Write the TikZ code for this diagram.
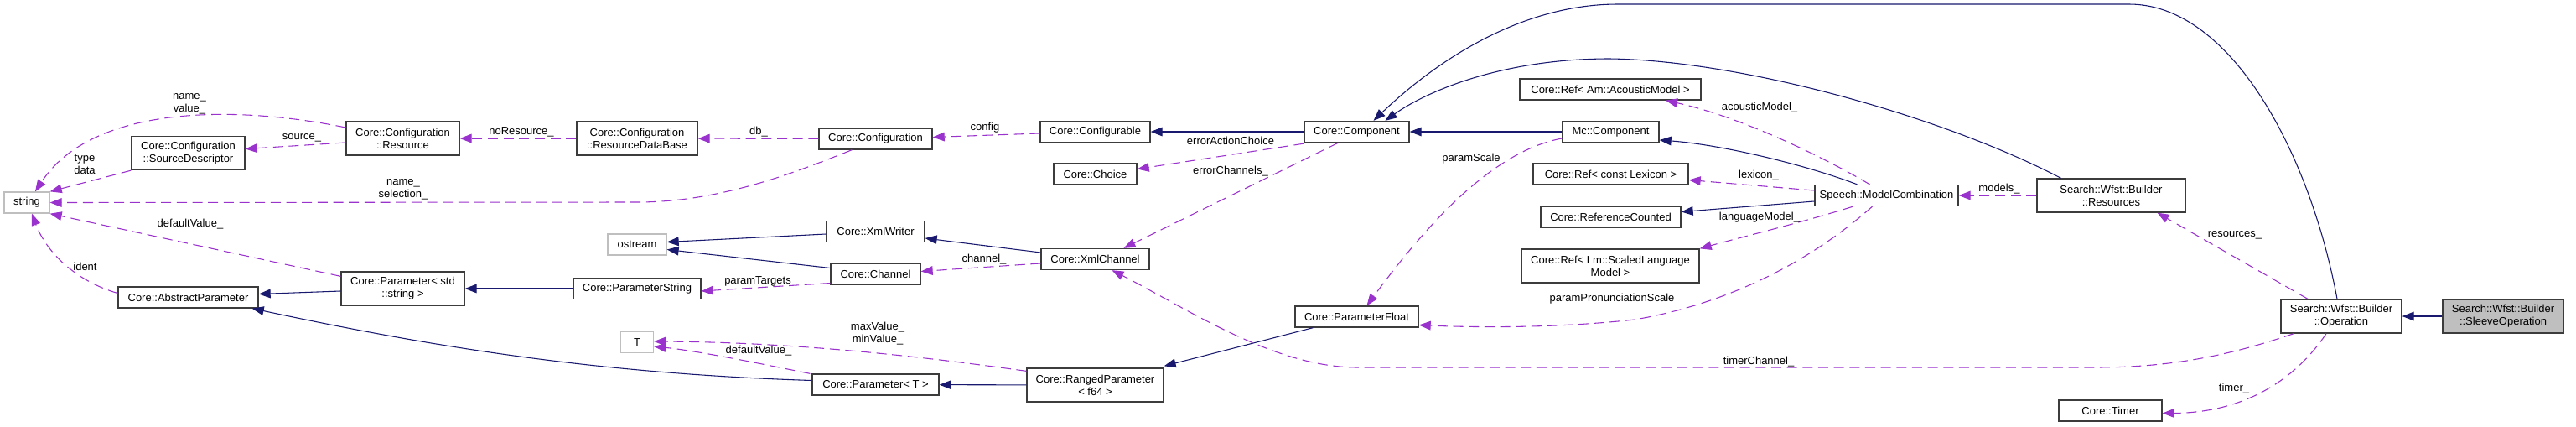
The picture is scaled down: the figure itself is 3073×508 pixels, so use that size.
\documentclass[tikz,border=0pt]{standalone}
\usepackage{fontspec}
\setmainfont{Liberation Sans}
\usetikzlibrary{arrows.meta,calc}
\definecolor{navy}{RGB}{25,25,112}
\definecolor{orchid}{RGB}{154,50,205}
\definecolor{frame}{RGB}{60,60,60}
\definecolor{grey75}{RGB}{191,191,191}
\tikzset{
  >={Triangle[length=10.5pt,width=8pt]},
  cls/.style={draw=frame,line width=1pt,fill=white,inner sep=0pt,
    minimum height=25*0.75pt,align=center,font=\fontsize{9.75}{11.25}\selectfont},
  ext/.style={cls,draw=grey75},
  two/.style={minimum height=40*0.75pt},
  wd/.style={minimum width=#1*0.75pt},
  inh/.style={->,draw=navy,line width=0.8pt},
  use/.style={->,draw=orchid,line width=0.8pt,dash pattern=on 9pt off 5pt},
  lbl/.style={inner sep=0pt,align=center,font=\fontsize{9.75}{11.25}\selectfont},
}
\begin{document}
\begin{tikzpicture}[x=0.75pt,y=-0.75pt]
  \fill[white] (0,0) rectangle (3073,508);
  % classes
  \node[ext,wd=54] (str) at (32,241.5) {string};
  \node[cls,two,wd=135] (sd) at (224.5,182.5) {Core::Configuration\\::SourceDescriptor};
  \node[cls,two,wd=135] (cres) at (480.5,165) {Core::Configuration\\::Resource};
  \node[cls,wd=167] (ap) at (224.5,354.5) {Core::AbstractParameter};
  \node[cls,two,wd=147] (pss) at (480.5,344) {Core::Parameter< std\\::string >};
  \node[cls,two,wd=144] (rdb) at (760,165) {Core::Configuration\\::ResourceDataBase};
  \node[ext,wd=70] (ost) at (760,291.5) {ostream};
  \node[cls,wd=152] (ps) at (760,344) {Core::ParameterString};
  \node[ext,wd=39] (tt) at (760,408) {T};
  \node[cls,wd=135] (conf) at (1044.5,165.5) {Core::Configuration};
  \node[cls,wd=117] (xw) at (1044.5,276) {Core::XmlWriter};
  \node[cls,wd=107] (ch) at (1044.5,326.5) {Core::Channel};
  \node[cls,wd=151] (pt) at (1044.5,458.5) {Core::Parameter< T >};
  \node[cls,wd=131] (cfgb) at (1306.5,157) {Core::Configurable};
  \node[cls,wd=99] (cho) at (1306.5,207.5) {Core::Choice};
  \node[cls,wd=129] (xch) at (1306.5,309) {Core::XmlChannel};
  \node[cls,two,wd=163] (rp) at (1306.5,459) {Core::RangedParameter\\< f64 >};
  \node[cls,wd=125] (cmp) at (1618.5,157) {Core::Component};
  \node[cls,wd=147] (pf) at (1618.5,377.5) {Core::ParameterFloat};
  \node[cls,wd=216] (ram) at (1921,106.5) {Core::Ref< Am::AcousticModel >};
  \node[cls,wd=115] (mcc) at (1921.5,157) {Mc::Component};
  \node[cls,wd=185] (rlex) at (1921.5,207.5) {Core::Ref< const Lexicon >};
  \node[cls,wd=167] (refc) at (1921.5,258.5) {Core::ReferenceCounted};
  \node[cls,two,wd=212] (rlm) at (1921,317) {Core::Ref< Lm::ScaledLanguage\\Model >};
  \node[cls,wd=171] (mc) at (2250.5,233) {Speech::ModelCombination};
  \node[cls,two,wd=177] (res) at (2518.5,233) {Search::Wfst::Builder\\::Resources};
  \node[cls,wd=123] (tim) at (2517.5,489.5) {Core::Timer};
  \node[cls,two,wd=144] (op) at (2793,377) {Search::Wfst::Builder\\::Operation};
  \node[cls,two,wd=144,fill=grey75] (slv) at (2986,377) {Search::Wfst::Builder\\::SleeveOperation};

  % inheritance
  \foreach \a/\b in {slv/op,mcc/cmp,cmp/cfgb,ps/pss,rp/pt} \draw[inh] (\a) -- (\b);
  \draw[inh] ($(op.north)+(-5,0)$) .. controls (2755,180) and (2660,5) .. (2540,5) -- (1930,5)
    .. controls (1800,5) and (1695,90) .. ($(cmp.north)+(20,0)$);
  \draw[inh] ($(res.north)+(-60,0)$) .. controls (2320,140) and (2080,72) .. (1920,70)
    .. controls (1790,70) and (1700,110) .. ($(cmp.north)+(34,0)$);
  \draw[inh] ($(mc.north)+(-35,0)$) .. controls (2150,195) and (2050,172) .. ($(mcc.east)+(0,10)$);
  \draw[inh] ($(mc.west)+(0,7)$) -- ($(refc.east)+(0,-6)$);
  \draw[inh] ($(xch.west)+(0,-8)$) -- ($(xw.east)+(0,8)$);
  \draw[inh] ($(xw.west)+(0,3)$) -- ($(ost.east)+(0,-3)$);
  \draw[inh] ($(ch.west)+(0,-7)$) -- ($(ost.east)+(0,6)$);
  \draw[inh] ($(pss.west)+(0,3)$) -- ($(ap.east)+(0,-4)$);
  \draw[inh] ($(pt.west)+(0,-5)$) .. controls (700,445) and (500,410) .. ($(ap.south east)+(-8,0)$);
  \draw[inh] ($(pf.south west)+(22,0)$) -- ($(rp.north east)+(0,-2)$);

  % usage
  \foreach \a/\b in {res/mc,rdb/cres,conf/rdb} \draw[use] (\a) -- (\b);
  \draw[use] ($(cres.west)+(0,-13)$) .. controls (280,125) and (110,125) .. ($(str.north)+(10,0)$);
  \draw[use] ($(cres.west)+(0,5)$) -- ($(sd.east)+(0,-5)$);
  \draw[use] ($(conf.south west)+(40,0)$) .. controls (950,205) and (860,241) .. (760,241) -- (str.east);
  \draw[use] (sd.south west) -- (str.north east);
  \draw[use] ($(pss.north west)+(0,6)$) -- (str.south east);
  \draw[use] ($(ap.west)+(0,-5)$) .. controls (90,335) and (55,300) .. ($(str.south)+(6,0)$);
  \draw[use] ($(cfgb.west)+(0,2)$) -- ($(conf.east)+(0,-2)$);
  \draw[use] ($(cmp.south west)+(0,1)$) -- ($(cho.east)+(0,-6)$);
  \draw[use] ($(cmp.south)+(-22,0)$) -- ($(xch.north)+(34,0)$);
  \draw[use] ($(xch.west)+(0,5)$) -- ($(ch.east)+(0,-3)$);
  \draw[use] ($(ch.west)+(0,11)$) -- ($(ps.east)+(0,3)$);
  \draw[use] ($(rp.north west)+(0,4)$) .. controls (1100,425) and (950,408) .. ($(tt.east)+(0,-1)$);
  \draw[use] ($(pt.north west)+(-2,0)$) .. controls (900,432) and (830,418) .. ($(tt.east)+(0,5)$);
  \draw[use] ($(mcc.west)+(0,8)$) .. controls (1780,180) and (1700,270) .. ($(pf.north)+(12,0)$);
  \draw[use] ($(mc.south)+(-17,0)$) .. controls (2150,320) and (2050,364) .. (1950,381)
    .. controls (1850,392) and (1750,390) .. ($(pf.east)+(0,10)$);
  \draw[use] ($(mc.north)+(-20,0)$) .. controls (2180,190) and (2080,140) .. ($(ram.south)+(66,0)$);
  \draw[use] ($(mc.west)+(0,-6)$) -- ($(rlex.east)+(0,7)$);
  \draw[use] ($(mc.south)+(-40,0)$) .. controls (2150,265) and (2080,282) .. (rlm.north east);
  \draw[use] ($(op.north)+(-40,0)$) -- ($(res.south)+(55,0)$);
  \draw[use] ($(op.south west)+(16,0)$) .. controls (2670,420) and (2600,438) .. (2500,438) -- (1620,438)
    .. controls (1520,438) and (1420,370) .. ($(xch.south)+(20,0)$);
  \draw[use] ($(op.south)+(-18,0)$) .. controls (2740,450) and (2680,492) .. ($(tim.east)+(0,3)$);

  % edge labels
  \node[lbl] (lNameVal) at (226,123.5) {name\_\\value\_};
  \node[lbl] (lSource) at (360,164) {source\_};
  \node[lbl] (lTypeData) at (101,196) {type\\data};
  \node[lbl] (lNameSel) at (481,225.5) {name\_\\selection\_};
  \node[lbl] (lDefStr) at (227,267) {defaultValue\_};
  \node[lbl] (lIdent) at (101.5,318) {ident};
  \node[lbl] (lNoRes) at (622,157) {noResource\_};
  \node[lbl] (lDb) at (905,157) {db\_};
  \node[lbl] (lTargets) at (904,335) {paramTargets};
  \node[lbl] (lDefT) at (905,418) {defaultValue\_};
  \node[lbl] (lMinMax) at (1047,398) {maxValue\_\\minValue\_};
  \node[lbl] (lConfig) at (1175,152) {config};
  \node[lbl] (lErrChoice) at (1468,168) {errorActionChoice};
  \node[lbl] (lErrChan) at (1468,204) {errorChannels\_};
  \node[lbl] (lChannel) at (1174,309) {channel\_};
  \node[lbl] (lScale) at (1755,189) {paramScale};
  \node[lbl] (lPron) at (1923,356) {paramPronunciationScale};
  \node[lbl] (lAcoustic) at (2099,128) {acousticModel\_};
  \node[lbl] (lLexicon) at (2098,209) {lexicon\_};
  \node[lbl] (lLang) at (2099,259) {languageModel\_};
  \node[lbl] (lModels) at (2385,225) {models\_};
  \node[lbl] (lTimerCh) at (2098,431) {timerChannel\_};
  \node[lbl] (lRes) at (2666,280) {resources\_};
  \node[lbl] (lTimer) at (2665,463) {timer\_};
\end{tikzpicture}
\end{document}
